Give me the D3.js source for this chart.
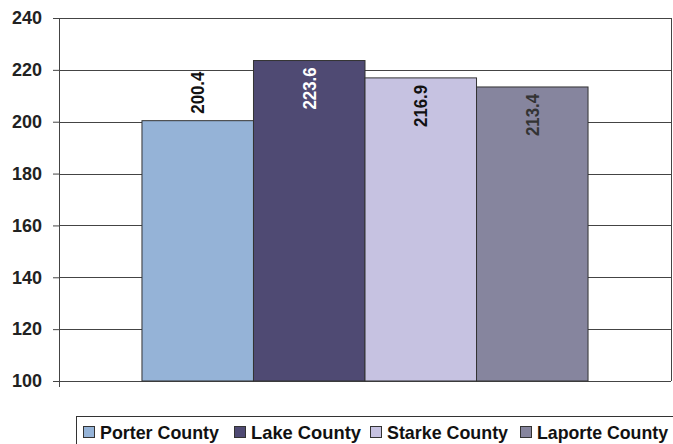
<!DOCTYPE html>
<html>
<head>
<meta charset="utf-8">
<script src="https://cdn.jsdelivr.net/npm/d3@7"></script>
<style>
  body { margin: 0; background: #fff; }
  text { font-family: "Liberation Sans", Arial, sans-serif; font-weight: bold; }
</style>
</head>
<body>
<svg id="chart"></svg>
<script>
// values
var counties = ["Porter County", "Lake County", "Starke County", "Laporte County"];
var values = [200.4, 223.6, 216.9, 213.4];
var colors = ["#95b3d7", "#4f4a73", "#c6c2e1", "#86859e"];
var labelColors = ["#111", "#fff", "#111", "#333"];
var yTicks = [100, 120, 140, 160, 180, 200, 220, 240];

var W = 673, H = 444;
var margin = { top: 18, right: 2, bottom: 63, left: 59 };
var width = W - margin.left - margin.right;
var height = H - margin.top - margin.bottom;

var svg = d3.select("#chart").attr("width", W).attr("height", H);
var g = svg.append("g").attr("transform", "translate(" + margin.left + "," + margin.top + ")");

var y = d3.scaleLinear().domain([100, 240]).range([height, 0]);
var x0 = d3.scaleBand().domain(["all"]).range([0, width]).paddingInner(0).paddingOuter(0.186);
var x1 = d3.scaleBand().domain(counties).range([x0("all"), x0("all") + x0.bandwidth()]);

// gridlines
g.selectAll(".grid")
  .data(yTicks)
  .enter().append("line")
  .attr("x1", 0).attr("x2", width)
  .attr("y1", d => Math.round(y(d)) + 0.5).attr("y2", d => Math.round(y(d)) + 0.5)
  .attr("stroke", "#444").attr("stroke-width", 1);

// right border
g.append("line")
  .attr("x1", width + 0.5).attr("x2", width + 0.5)
  .attr("y1", y(240)).attr("y2", y(100))
  .attr("stroke", "#444");

// bars
var data = counties.map((c, i) => ({ county: c, value: values[i], i: i }));
g.selectAll(".bar")
  .data(data)
  .enter().append("rect")
  .attr("x", d => x1(d.county))
  .attr("width", x1.bandwidth())
  .attr("y", d => y(d.value))
  .attr("height", d => height - y(d.value))
  .attr("fill", d => colors[d.i])
  .attr("stroke", "#333").attr("stroke-width", 1);

// value labels, rotated
g.selectAll(".lbl")
  .data(data)
  .enter().append("text")
  .attr("transform", d => {
    var cx = x1(d.county) + x1.bandwidth() / 2 + 6.5;
    var ty = d.i === 0 ? y(d.value) - 7 : y(d.value) + 7;
    return "translate(" + cx + "," + ty + ") rotate(-90)";
  })
  .attr("text-anchor", d => d.i === 0 ? "start" : "end")
  .attr("font-size", 18)
  .attr("textLength", 42).attr("lengthAdjust", "spacingAndGlyphs")
  .attr("fill", d => labelColors[d.i])
  .text(d => d.value.toFixed(1));

// y axis
var yAxis = g.append("g")
  .call(d3.axisLeft(y).tickValues(yTicks).tickSize(6).tickPadding(11).tickFormat(d3.format("d")));
yAxis.select(".domain").attr("stroke", "#444").attr("d", "M0.5," + (y(100) + 6) + "V" + y(240));
yAxis.selectAll(".tick line").attr("stroke", "#444");
yAxis.selectAll(".tick text").attr("font-size", 18).attr("fill", "#222")
  .attr("textLength", 30).attr("lengthAdjust", "spacingAndGlyphs");

// legend
var legend = svg.append("g");
legend.append("rect")
  .attr("x", 76.5).attr("y", 416.5).attr("width", 600).attr("height", 40)
  .attr("fill", "#fff").attr("stroke", "#333");
var legendX = [83, 234, 370, 520];
var legendLen = [119, 110, 121, 131];
var items = legend.selectAll(".item")
  .data(data)
  .enter().append("g")
  .attr("transform", d => "translate(" + legendX[d.i] + ",0)");
items.append("rect")
  .attr("x", 0.5).attr("y", 426.5).attr("width", 11).attr("height", 11)
  .attr("fill", d => colors[d.i]).attr("stroke", "#333");
items.append("text")
  .attr("x", 17).attr("y", 439)
  .attr("font-size", 19).attr("fill", "#111")
  .attr("textLength", d => legendLen[d.i]).attr("lengthAdjust", "spacingAndGlyphs")
  .text(d => d.county);
</script>
</body>
</html>
